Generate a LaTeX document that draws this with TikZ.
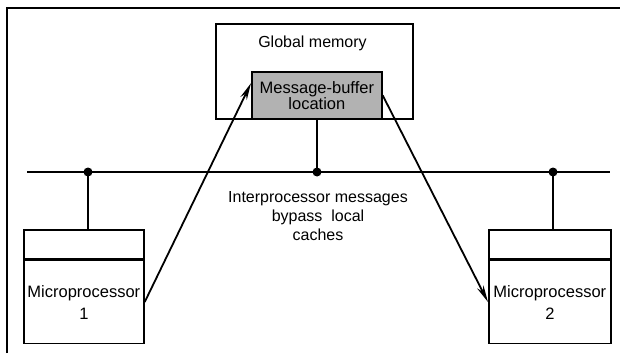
\documentclass[tikz,border=0pt]{standalone}
\usepackage{fontspec}
\setmainfont{Liberation Sans}
\usetikzlibrary{calc}
\usetikzlibrary{arrows.meta}
\tikzset{
    unit/.style={draw, line width=1.7pt, inner sep=0pt},
    msg/.style={line width=1.8pt, -{Stealth[length=17pt,width=7pt]}},
    tap/.style={line width=1.7pt},
}
\begin{document}
\begin{tikzpicture}[x=1pt, y=-1pt, font=\fontsize{16}{19}\selectfont]
    \useasboundingbox (0,0) rectangle (620,353);

    \coordinate (f0) at (7, 353);
    \coordinate (f1) at (7, 8);
    \coordinate (f2) at (620, 8);
    \coordinate (busL) at (27, 172);
    \coordinate (busR) at (610, 172);
    \coordinate (t1) at (88, 172);
    \coordinate (t0) at (317, 172);
    \coordinate (t2) at (553, 172);

    \draw[line width=2.2pt] (f0) -- (f1) -- (f2);

    % global memory with its buffer
    \node[unit, minimum width=197pt, minimum height=95pt, anchor=north west] (gmem) at (215, 23) {};
    \node (gmemtext) at (312.5, 43) {Global memory};
    \node[unit, fill=gray!60, minimum width=130pt, minimum height=47pt, anchor=north west,
          align=center, font=\fontsize{16.5}{16}\selectfont] (buf) at (251, 71) {Message-buffer\\location};

    % processors
    \node[unit, minimum width=120pt, minimum height=29pt, anchor=north west] (mp1cache) at (23, 229) {};
    \node[unit, minimum width=120pt, minimum height=83pt, anchor=north, align=center,
          font=\fontsize{16.5}{22}\selectfont] (mp1) at (mp1cache.south) {Microprocessor\\1};
    \node[unit, minimum width=122pt, minimum height=29pt, anchor=north west] (mp2cache) at (488, 229) {};
    \node[unit, minimum width=122pt, minimum height=83pt, anchor=north, align=center,
          font=\fontsize{16.5}{22}\selectfont] (mp2) at (mp2cache.south) {Microprocessor\\2};

    % bus
    \draw[tap] (busL) -- (busR);
    \draw[tap] (t1) -- (t1 |- mp1cache.north);
    \draw[tap] (t2) -- (t2 |- mp2cache.north);
    \draw[tap] (t0) -- (t0 |- buf.south);
    \fill (t1) circle (4.5pt);
    \fill (t0) circle (4.5pt);
    \fill (t2) circle (4.5pt);
    \node[align=center] (note) at (318, 216) {Interprocessor messages\\bypass\ \ local\\caches};

    \draw[msg] (mp1.east) -- ($(buf.north west)!0.25!(buf.south west)$);
    \draw[msg] (buf.east) -- (mp2.west);
\end{tikzpicture}
\end{document}
